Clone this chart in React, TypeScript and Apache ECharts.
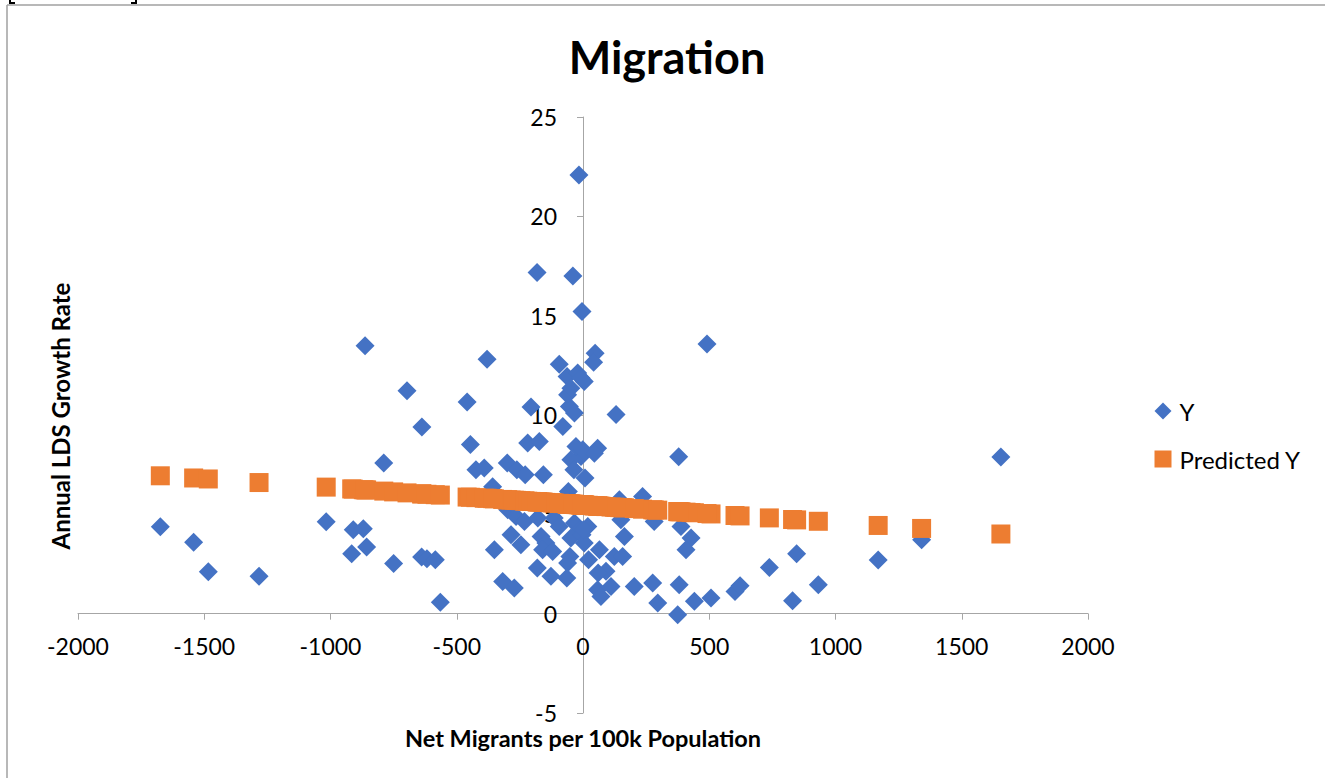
import React, { useEffect, useRef } from "react";
import * as echarts from "echarts";

const chartTitle = "Migration";
const xAxisTitle = "Net Migrants per 100k Population";
const yAxisTitle = "Annual LDS Growth Rate";
const seriesNames = ["Y", "Predicted Y"];

const xMin = -2000;
const xMax = 2000;
const xStep = 500;
const yMin = -5;
const yMax = 25;
const yStep = 5;

// Net migrants per 100k population (x)
const migrants = [
  -1674, -1542, -1484, -1283, -1017, -910, -870, -916, -857, -789,
  -750, -639, -618, -585, -638, -565, -863, -697, -459, -380,
  -446, -424, -391, -318, -272, -298, -265, -232, -179, -114,
  -94, -34, -10, 19, -285, -246, -166, -147, -160, -120,
  -48, -4, 5, -52, -61, 22, -181, -127, -64, -300,
  -262, -229, -157, -48, -8, 8, -36, -58, -219, -173,
  -28, -1, 58, -80, -54, -34, -61, -63, -21, 5,
  -8, -48, -94, 48, 42, -206, -16, -182, -40, -4,
  -351, -358, 45, 144, 236, 150, 282, 164, 388, 428,
  408, 65, 124, 157, 91, 58, 111, 71, 203, 276,
  296, 381, 375, 441, 507, 602, 622, 738, 846, 830,
  932, 1169, 1341, 1655, 491, 131, 379, 60, 2,
];

// Annual LDS growth rate (Y)
const growthRate = [
  4.38, 3.59, 2.11, 1.88, 4.63, 4.23, 4.28, 3.02, 3.36, 7.58,
  2.53, 2.85, 2.77, 2.72, 9.39, 0.57, 13.48, 11.22, 10.66, 12.8,
  8.52, 7.24, 7.33, 1.62, 1.29, 5.23, 4.89, 4.64, 4.81, 4.81,
  4.39, 4.56, 4.23, 4.39, 3.97, 3.47, 3.89, 3.56, 3.22, 3.13,
  3.81, 3.97, 3.56, 2.88, 2.55, 2.72, 2.3, 1.88, 1.8, 7.58,
  7.24, 6.99, 6.99, 7.75, 7.91, 6.83, 7.24, 6.15, 8.59, 8.67,
  8.42, 8.25, 8.33, 9.42, 10.43, 10.1, 11.02, 11.94, 12.11, 11.68,
  11.86, 11.35, 12.56, 13.11, 12.66, 10.4, 22.08, 17.17, 17.0, 15.21,
  3.22, 6.39, 8.08, 5.73, 5.9, 4.73, 4.64, 3.89, 4.39, 3.81,
  3.22, 3.22, 2.88, 2.88, 2.13, 1.21, 1.37, 0.87, 1.37, 1.54,
  0.54, 1.46, -0.05, 0.62, 0.79, 1.11, 1.41, 2.33, 3.02, 0.65,
  1.46, 2.7, 3.72, 7.88, 13.58, 10.02, 7.9, 2.05, 4.23,
];

// Predicted Y (regression line values at each x)
const predicted = [
  6.94, 6.83, 6.78, 6.6, 6.37, 6.27, 6.24, 6.28, 6.23, 6.17,
  6.13, 6.03, 6.01, 5.99, 6.03, 5.97, 6.23, 6.08, 5.87, 5.81,
  5.86, 5.84, 5.81, 5.75, 5.71, 5.73, 5.7, 5.67, 5.63, 5.57,
  5.55, 5.5, 5.48, 5.45, 5.72, 5.69, 5.62, 5.6, 5.61, 5.58,
  5.51, 5.47, 5.47, 5.52, 5.52, 5.45, 5.63, 5.58, 5.53, 5.73,
  5.7, 5.67, 5.61, 5.51, 5.48, 5.46, 5.5, 5.52, 5.66, 5.62,
  5.49, 5.47, 5.42, 5.54, 5.52, 5.5, 5.52, 5.53, 5.49, 5.47,
  5.48, 5.51, 5.55, 5.43, 5.43, 5.65, 5.48, 5.63, 5.51, 5.47,
  5.78, 5.79, 5.43, 5.34, 5.26, 5.34, 5.22, 5.33, 5.13, 5.09,
  5.11, 5.41, 5.36, 5.33, 5.39, 5.42, 5.37, 5.41, 5.29, 5.23,
  5.21, 5.13, 5.14, 5.08, 5.02, 4.94, 4.92, 4.82, 4.72, 4.74,
  4.65, 4.44, 4.29, 4.01, 5.04, 5.35, 5.14, 5.42, 5.47,
];

const FONT = "Lato, 'Open Sans', sans-serif";

const GRID_LEFT = 78;
const GRID_RIGHT = 237;
const GRID_TOP = 117;
const GRID_BOTTOM = 65;
const W = 1325;
const H = 778;

export default function App() {
  const ref = useRef<HTMLDivElement>(null);

  useEffect(() => {
    if (!ref.current) return;
    const chart = echarts.init(ref.current, undefined, { renderer: "svg" });

    const actual = migrants.map((x, i) => [x, growthRate[i]]);
    const pred = migrants.map((x, i) => [x, predicted[i]]);

    // place the axes where the other axis is zero (Excel style crossing)
    const plotW = W - GRID_LEFT - GRID_RIGHT;
    const plotH = H - GRID_TOP - GRID_BOTTOM;
    const xZeroPx = GRID_LEFT + (plotW * (0 - xMin)) / (xMax - xMin);
    const yZeroPx = GRID_TOP + (plotH * (yMax - 0)) / (yMax - yMin);
    const xAxisOffset = -((H - GRID_BOTTOM) - yZeroPx);
    const yAxisOffset = -(xZeroPx - GRID_LEFT);

    chart.setOption({
      animation: false,
      backgroundColor: "#ffffff",
      textStyle: { fontFamily: FONT },
      grid: { left: GRID_LEFT, right: GRID_RIGHT, top: GRID_TOP, bottom: GRID_BOTTOM, containLabel: false },
      xAxis: {
        type: "value",
        position: "bottom",
        offset: xAxisOffset,
        min: xMin,
        max: xMax,
        interval: xStep,
        axisLine: { onZero: false, lineStyle: { color: "#a6a6a6", width: 1 } },
        axisTick: { show: true, length: 6, lineStyle: { color: "#a6a6a6" } },
        axisLabel: {
          color: "#000",
          fontSize: 23,
          fontFamily: FONT,
          margin: 21,
          formatter: (v: number) => String(v),
        },
        splitLine: { show: false },
      },
      yAxis: {
        type: "value",
        position: "left",
        offset: yAxisOffset,
        min: yMin,
        max: yMax,
        interval: yStep,
        axisLine: { show: true, onZero: false, lineStyle: { color: "#a6a6a6", width: 1 } },
        axisTick: { show: true, length: 6, lineStyle: { color: "#a6a6a6" } },
        axisLabel: {
          color: "#000",
          fontSize: 23,
          fontFamily: FONT,
          margin: 26,
          formatter: (v: number) => String(v),
        },
        splitLine: { show: false },
      },
      legend: {
        orient: "vertical",
        left: 1154.5,
        top: 399,
        padding: 0,
        itemGap: 24,
        itemWidth: 17,
        itemHeight: 17,
        textStyle: { color: "#000", fontSize: 24, fontFamily: FONT, padding: [0, 0, 0, 3] },
        data: [
          { name: seriesNames[0], icon: "diamond" },
          { name: seriesNames[1], icon: "rect" },
        ],
      },
      series: [
        {
          name: seriesNames[0],
          type: "scatter",
          symbol: "diamond",
          symbolSize: 19,
          itemStyle: { color: "#4472C4", opacity: 1 },
          data: actual,
          z: 2,
        },
        {
          name: seriesNames[1],
          type: "scatter",
          symbol: "rect",
          symbolSize: 19,
          itemStyle: { color: "#ED7D31", opacity: 1 },
          data: pred,
          z: 3,
        },
      ],
      graphic: [
        {
          type: "line",
          shape: { x1: 7, y1: 5, x2: 7, y2: 778 },
          style: { stroke: "#a0a0a0", lineWidth: 1.5 },
        },
        {
          type: "line",
          shape: { x1: 7, y1: 5, x2: 1325, y2: 5 },
          style: { stroke: "#a0a0a0", lineWidth: 1.5 },
        },
        {
          type: "polyline",
          shape: { points: [[15, 3], [10, 3], [10, 0]] },
          style: { stroke: "#000", lineWidth: 2, fill: null },
        },
        {
          type: "polyline",
          shape: { points: [[131, 3], [136, 3], [136, 0]] },
          style: { stroke: "#000", lineWidth: 2, fill: null },
        },
        {
          type: "text",
          x: 667,
          y: 57,
          style: {
            text: chartTitle,
            align: "center",
            verticalAlign: "middle",
            fontSize: 45,
            fontWeight: "bold",
            fontFamily: FONT,
            fill: "#000",
          },
        },
        {
          type: "text",
          x: 583,
          y: 738,
          style: {
            text: xAxisTitle,
            align: "center",
            verticalAlign: "middle",
            fontSize: 23.5,
            fontWeight: "bold",
            fontFamily: FONT,
            fill: "#000",
          },
        },
        {
          type: "text",
          x: 60,
          y: 416,
          rotation: Math.PI / 2,
          style: {
            text: yAxisTitle,
            align: "center",
            verticalAlign: "middle",
            fontSize: 24,
            fontWeight: "bold",
            fontFamily: FONT,
            fill: "#000",
          },
        },
      ],
    });

    return () => chart.dispose();
  }, []);

  return (
    <div
      ref={ref}
      style={{ position: "fixed", left: 0, top: 0, width: W, height: H }}
    />
  );
}
